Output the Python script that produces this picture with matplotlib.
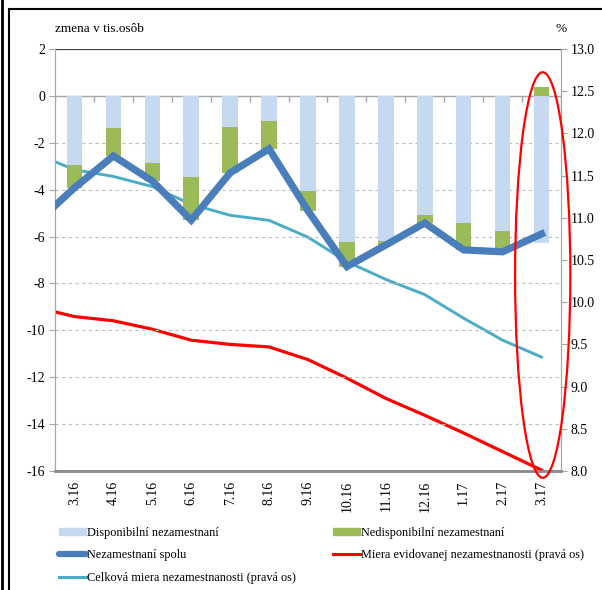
import numpy as np
import matplotlib
matplotlib.use('Agg')
import matplotlib.pyplot as plt
from matplotlib.patches import Ellipse, Rectangle, Patch
from matplotlib.lines import Line2D

plt.rcParams['font.family'] = ['Liberation Serif', 'DejaVu Serif']
plt.rcParams['font.size'] = 9.5
plt.rcParams['axes.unicode_minus'] = False

# months (the line series carry one extra month, 2.16, in front)
months = ['3.16', '4.16', '5.16', '6.16', '7.16', '8.16', '9.16',
          '10.16', '11.16', '12.16', '1.17', '2.17', '3.17']

# change in thousands of persons
disponibilni = [-2.94, -1.37, -2.86, -3.45, -1.32, -1.07, -4.05,
                -6.23, -6.19, -5.08, -5.42, -5.76, -6.27]
nedisponibilni = [-0.98, -1.19, -0.77, -1.85, -1.96, -1.19, -0.85,
                  -1.05, -0.17, -0.34, -1.15, -0.89, 0.38]
spolu = [-5.45, -3.92, -2.56, -3.63, -5.30, -3.28, -2.26, -4.90,
         -7.28, -6.36, -5.42, -6.57, -6.65, -5.89]

# rates in % (right axis)
miera_evid = [9.94, 9.83, 9.78, 9.68, 9.55, 9.50, 9.47, 9.32,
              9.10, 8.86, 8.66, 8.45, 8.23, 8.01]
miera_celk = [11.76, 11.57, 11.49, 11.37, 11.16, 11.03, 10.97, 10.77,
              10.48, 10.27, 10.09, 9.81, 9.55, 9.35]

c_disp = '#C6D9F1'
c_nedisp = '#9BBB59'
c_spolu = '#4A7EBB'
c_evid = '#FF0000'
c_celk = '#4BACC6'
c_axis = '#A6A6A6'

fig = plt.figure(figsize=(6.02, 5.90), dpi=100)
ax = fig.add_axes([55 / 602, 1 - 471 / 590, 506 / 602, 422 / 590])
ax2 = ax.twinx()

x = np.arange(len(months))
x_line = np.arange(-1, len(months))

# stacked bars: negative parts stack downwards, positive parts upwards
disp = np.array(disponibilni)
ned = np.array(nedisponibilni)
ned_base = np.where(ned < 0, disp, 0)
ax.bar(x, disp, width=0.4, color=c_disp, zorder=2)
ax.bar(x, ned, width=0.4, bottom=ned_base, color=c_nedisp, zorder=2)

ax.plot(x_line, spolu, color=c_spolu, lw=5.2, solid_joinstyle='miter', zorder=4)
ax2.plot(x_line, miera_evid, color=c_evid, lw=2.3, zorder=3)
ax2.plot(x_line, miera_celk, color=c_celk, lw=2.1, zorder=3)

ax.set_xlim(-0.5, len(months) - 0.5)
ax.set_ylim(-16, 2)
ax.set_yticks(np.arange(-16, 3, 2))
ax2.set_ylim(8, 13)
ax2.set_yticks(np.arange(8, 13.01, 0.5))
ax2.set_yticklabels(['%.1f' % v for v in np.arange(8, 13.01, 0.5)])

# gridlines
for v in np.arange(-14, 1, 2):
    if v != 0:
        ax.axhline(v, color='#BFBFBF', lw=0.8, ls=(0, (3, 3)), zorder=1)
ax.axhline(2, color='#404040', lw=0.9, zorder=1)

# category axis at zero with tick marks between months
ax.axhline(0, color=c_axis, lw=1.0, zorder=1)
ax.plot(np.arange(-0.5, len(months), 1), np.zeros(len(months) + 1), ls='none',
        marker=3, ms=4, mew=1.0, color=c_axis, zorder=1)

ax.set_xticks(x)
ax.set_xticklabels(months, rotation=90, va='top', ha='center')
ax.tick_params(axis='x', length=0, pad=7, labelsize=10)
ax.tick_params(axis='y', length=4, color=c_axis, labelsize=10, pad=3)
ax2.tick_params(axis='y', length=4, color=c_axis, labelsize=10, pad=3)

for a in (ax, ax2):
    a.spines['top'].set_visible(False)
    a.spines['left'].set_color(c_axis)
    a.spines['right'].set_color(c_axis)
    a.spines['bottom'].set_color('#8C8C8C')
    a.spines['bottom'].set_linewidth(1.8)
ax.set_zorder(ax2.get_zorder() + 1)
ax.patch.set_visible(False)

# highlight of the last month
ell = Ellipse((12.03, -7.64), 1.42, 17.3, fill=False, ec='#FF0000', lw=1.6,
              clip_on=False, zorder=6)
ax.add_patch(ell)

fig.text(55 / 602, 1 - 29 / 590, 'zmena v tis.osôb', ha='left', va='center', fontsize=9.5)
fig.text(561 / 602, 1 - 29 / 590, '%', ha='center', va='center', fontsize=9.5)

handles = [Patch(color=c_disp), Line2D([], [], color=c_spolu, lw=4.5, solid_capstyle='round'),
           Line2D([], [], color=c_celk, lw=2.2), Patch(color=c_nedisp),
           Line2D([], [], color=c_evid, lw=2.2)]
labels = ['Disponibilní nezamestnaní', 'Nezamestnaní spolu',
          'Celková miera nezamestnanosti (pravá os)', 'Nedisponibilní nezamestnaní',
          'Miera evidovanej nezamestnanosti (pravá os)']
fig.legend(handles, labels, ncol=2, loc='upper left', bbox_to_anchor=(59 / 602, 1 - 527 / 590),
           frameon=False, handlelength=2.2, handleheight=0.55, handletextpad=0.1,
           columnspacing=3.0, labelspacing=0.85, borderaxespad=0, borderpad=0, fontsize=8.8)

# outer frame
fig.patches.append(Rectangle((9 / 602, -0.1), 1.2, 1 - 9 / 590 + 0.1, transform=fig.transFigure,
                             fill=False, ec='black', lw=1.5))
fig.add_artist(Line2D([1.5 / 602, 1.5 / 602], [0, 1], transform=fig.transFigure,
                      color='black', lw=2))

fig.savefig('out.png', dpi=100)
